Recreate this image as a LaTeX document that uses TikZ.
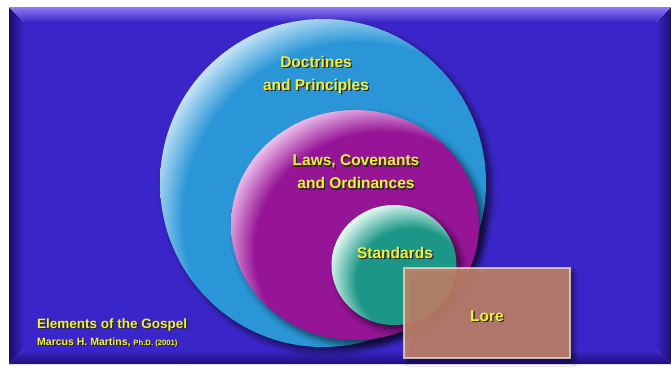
\documentclass[tikz,border=0pt]{standalone}
\usepackage{fontspec}
\setmainfont{Liberation Sans}
\usetikzlibrary{shapes.geometric,shadows.blur}
\definecolor{panelblue}{RGB}{58,38,200}
\definecolor{bevellight}{RGB}{140,125,245}
\definecolor{bevelnavy}{RGB}{25,12,110}
\definecolor{beveldark}{RGB}{30,15,120}
\definecolor{skymain}{RGB}{42,150,215}
\definecolor{skylight}{RGB}{225,242,252}
\definecolor{skyrim}{RGB}{120,190,235}
\definecolor{plummain}{RGB}{150,20,150}
\definecolor{plumlight}{RGB}{248,215,248}
\definecolor{plumrim}{RGB}{200,110,200}
\definecolor{tealmain}{RGB}{28,150,135}
\definecolor{teallight}{RGB}{225,250,242}
\definecolor{tealrim}{RGB}{100,190,175}
\definecolor{lorebrown}{RGB}{200,135,108}
\definecolor{loreedge}{RGB}{235,215,190}
\definecolor{labelyellow}{RGB}{242,240,55}

% glassy bubbles, lit from the upper left (rim sits near 35bp)
\pgfdeclareradialshading{skyball}{\pgfqpoint{12bp}{-12bp}}{color(0bp)=(skymain); color(27bp)=(skymain); color(32bp)=(skylight); color(35bp)=(skyrim); color(50bp)=(skyrim)}
\pgfdeclareradialshading{plumball}{\pgfqpoint{12bp}{-12bp}}{color(0bp)=(plummain); color(26bp)=(plummain); color(32bp)=(plumlight); color(35bp)=(plumrim); color(50bp)=(plumrim)}
\pgfdeclareradialshading{tealball}{\pgfqpoint{12bp}{-12bp}}{color(0bp)=(tealmain); color(22bp)=(tealmain); color(31bp)=(teallight); color(35bp)=(tealrim); color(50bp)=(tealrim)}

\tikzset{
  bubble/.style={ellipse, shading=#1, inner sep=0pt,
    blur shadow={shadow xshift=5pt, shadow yshift=-5pt, shadow opacity=60,
      shadow blur radius=6pt, shadow blur steps=10}},
  tag/.style={text=labelyellow, font=\fontsize{15.5}{23}\selectfont\bfseries, align=center, inner sep=0pt},
  tagshadow/.style={tag, text=black!85, xshift=1.3pt, yshift=-1.3pt}
}

% yellow label with a dark drop under it
\newcommand{\glowlabel}[4][]{%
  \node[tagshadow,#1] (#2-sh) at #3 {#4};
  \node[tag,#1] (#2) at #3 {#4};}

\begin{document}
\begin{tikzpicture}[x=1pt,y=-1pt]
\useasboundingbox (0,0) rectangle (671,368);
\fill[white] (0,0) rectangle (671,368);

% bevelled panel
\shade[left color=bevelnavy, right color=panelblue] (9,7) -- (24,22) -- (24,350) -- (9,364) -- cycle;
\shade[left color=panelblue, right color=beveldark] (671,7) -- (656,22) -- (656,350) -- (671,364) -- cycle;
\shade[top color=panelblue, bottom color=beveldark] (9,364) -- (24,350) -- (656,350) -- (671,364) -- cycle;
\shade[top color=bevellight, bottom color=panelblue] (9,7) -- (671,7) -- (656,22) -- (24,22) -- cycle;
\fill[panelblue] (24,22) rectangle (656,350);

% nested bubbles
\node[bubble=skyball, minimum width=326pt, minimum height=328pt] (doctrines) at (323,183) {};
\node[bubble=plumball, minimum width=248pt, minimum height=230pt] (laws) at (355,225) {};
\node[bubble=tealball, minimum width=125pt, minimum height=120pt] (standards) at (394,265) {};

% lore box lies over the bubbles
\node[rectangle, fill=lorebrown, fill opacity=0.86, draw=loreedge, draw opacity=0.8, line width=1.5pt,
  minimum width=166pt, minimum height=90pt,
  blur shadow={shadow xshift=4pt, shadow yshift=-4pt, shadow opacity=55, shadow blur radius=4pt}] (lore) at (487,313) {};

\glowlabel{doctrines-txt}{(316,75)}{Doctrines\\and Principles}
\glowlabel{laws-txt}{(356,172)}{Laws, Covenants\\and Ordinances}
\glowlabel{standards-txt}{(395,253)}{Standards}
\glowlabel{lore-txt}{(487,316)}{Lore}

\glowlabel[anchor=west, font=\fontsize{13.5}{16}\selectfont\bfseries]{title}{(37,325)}{Elements of the Gospel}
\glowlabel[anchor=west, font=\fontsize{10.5}{12}\selectfont\bfseries]{author}{(37,342)}{Marcus H. Martins, {\fontsize{7.7}{9}\selectfont Ph.D. (2001)}}
\end{tikzpicture}
\end{document}
